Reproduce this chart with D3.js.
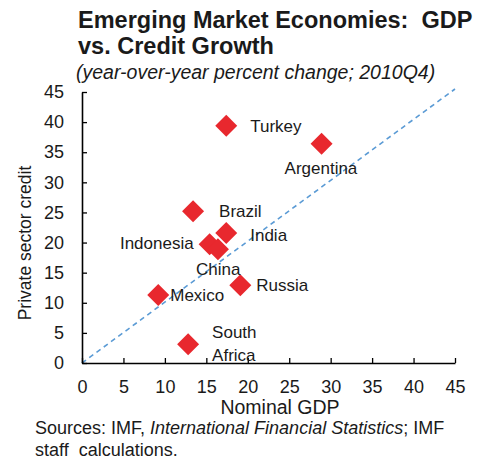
<!DOCTYPE html>
<html>
<head>
<meta charset="utf-8">
<script src="https://cdn.jsdelivr.net/npm/d3@7"></script>
<style>
  body { margin: 0; background: #fff; }
  text { font-family: "Liberation Sans", Arial, sans-serif; fill: #1a1a1a; white-space: pre; }
</style>
</head>
<body>
<div id="chart"></div>
<script>
const WIDTH = 486;
const HEIGHT = 460;
const MARGIN = { LEFT: 82, RIGHT: 31, TOP: 92, BOTTOM: 97 };

// DATA
const countries = ["Turkey", "Argentina", "Brazil", "India", "Indonesia", "China", "Russia", "Mexico", "South Africa"];
const gdpGrowth = [17.4, 28.9, 13.4, 17.4, 15.4, 16.4, 19.1, 9.2, 12.8];
const creditGrowth = [39.4, 36.4, 25.2, 21.6, 19.7, 18.9, 12.9, 11.3, 3.1];
const tickValues = [0, 5, 10, 15, 20, 25, 30, 35, 40, 45];

// label offsets relative to the point (px), one per country
const labelDx = [24, -37, 26, 24, -16, -22, 16, 12, 24];
const labelDy = [0, 24, 0, 2, -1, 20, 0, 0, -12];
const labelAnchor = ["start", "start", "start", "start", "end", "start", "start", "start", "start"];

const w = WIDTH - MARGIN.LEFT - MARGIN.RIGHT;
const h = HEIGHT - MARGIN.TOP - MARGIN.BOTTOM;

const svg = d3.select("#chart")
  .append("svg")
  .attr("width", WIDTH)
  .attr("height", HEIGHT);

// TITLE
svg.append("text")
  .attr("x", 78)
  .attr("y", 28)
  .attr("font-size", "23.5px")
  .attr("font-weight", "bold")
  .text("Emerging Market Economies:  GDP");
svg.append("text")
  .attr("x", 78)
  .attr("y", 54)
  .attr("font-size", "23.5px")
  .attr("font-weight", "bold")
  .text("vs. Credit Growth");
svg.append("text")
  .attr("x", 76)
  .attr("y", 79)
  .attr("font-size", "19.5px")
  .attr("font-style", "italic")
  .text("(year-over-year percent change; 2010Q4)");

const chart = svg.append("g")
  .attr("transform", `translate(${MARGIN.LEFT}, ${MARGIN.TOP})`);

const x = d3.scaleLinear().domain([0, 45]).range([0, w]);
const y = d3.scaleLinear().domain([0, 45]).range([h, 0]);

// 45 degree line
chart.append("line")
  .attr("x1", x(0))
  .attr("y1", y(0))
  .attr("x2", x(45))
  .attr("y2", y(45.5))
  .attr("stroke", "#5b9bd5")
  .attr("stroke-width", 1.6)
  .attr("stroke-dasharray", "5,4");

// AXIS
chart.append("g")
  .attr("transform", `translate(0, ${h})`)
  .call(d3.axisBottom(x).tickValues(tickValues).tickSizeInner(-5).tickSizeOuter(0).tickPadding(17))
  .call((g) => {
    g.select(".domain").attr("stroke", "#000").attr("stroke-width", 1.6);
    g.selectAll(".tick line").attr("stroke", "#000").attr("stroke-width", 1.3);
    g.selectAll(".tick text").attr("font-size", "18px").attr("font-family", null).attr("fill", "#1a1a1a");
  });

chart.append("g")
  .call(d3.axisLeft(y).tickValues(tickValues).tickSizeInner(-5).tickSizeOuter(0).tickPadding(18))
  .call((g) => {
    g.select(".domain").attr("stroke", "#000").attr("stroke-width", 1.6);
    g.selectAll(".tick line").attr("stroke", "#000").attr("stroke-width", 1.3);
    g.selectAll(".tick text").attr("font-size", "18px").attr("font-family", null).attr("fill", "#1a1a1a");
  });

// LABELS
svg.append("text")
  .attr("x", 280)
  .attr("y", 414)
  .attr("font-size", "19.5px")
  .attr("text-anchor", "middle")
  .text("Nominal GDP");

svg.append("text")
  .attr("transform", "translate(31, 243) rotate(-90)")
  .attr("font-size", "17.5px")
  .attr("text-anchor", "middle")
  .text("Private sector credit");

// POINTS
const diamond = d3.symbol().type(d3.symbolSquare).size(242);
chart.append("g")
  .selectAll("path")
  .data(countries)
  .join("path")
  .attr("d", diamond)
  .attr("transform", (d, i) => `translate(${x(gdpGrowth[i])}, ${y(creditGrowth[i])}) rotate(45)`)
  .attr("fill", "#e8282e");

chart.append("g")
  .selectAll("text")
  .data(countries)
  .join("text")
  .attr("x", (d, i) => x(gdpGrowth[i]) + labelDx[i])
  .attr("y", (d, i) => y(creditGrowth[i]) + labelDy[i])
  .attr("font-size", "17px")
  .attr("text-anchor", (d, i) => labelAnchor[i])
  .each(function (d) {
    const parts = d === "South Africa" ? ["South", "Africa"] : [d];
    const t = d3.select(this);
    parts.forEach((p, k) => {
      t.append("tspan")
        .attr("x", t.attr("x"))
        .attr("dy", k === 0 ? "0.35em" : "1.32em")
        .text(p);
    });
  });

// SOURCES
svg.append("text")
  .attr("x", 35)
  .attr("y", 434)
  .attr("font-size", "18px")
  .call((t) => {
    t.append("tspan").text("Sources: IMF, ");
    t.append("tspan").attr("font-style", "italic").text("International Financial Statistics");
    t.append("tspan").text("; IMF");
  });
svg.append("text")
  .attr("x", 35)
  .attr("y", 456)
  .attr("font-size", "18px")
  .text("staff  calculations.");
</script>
</body>
</html>
